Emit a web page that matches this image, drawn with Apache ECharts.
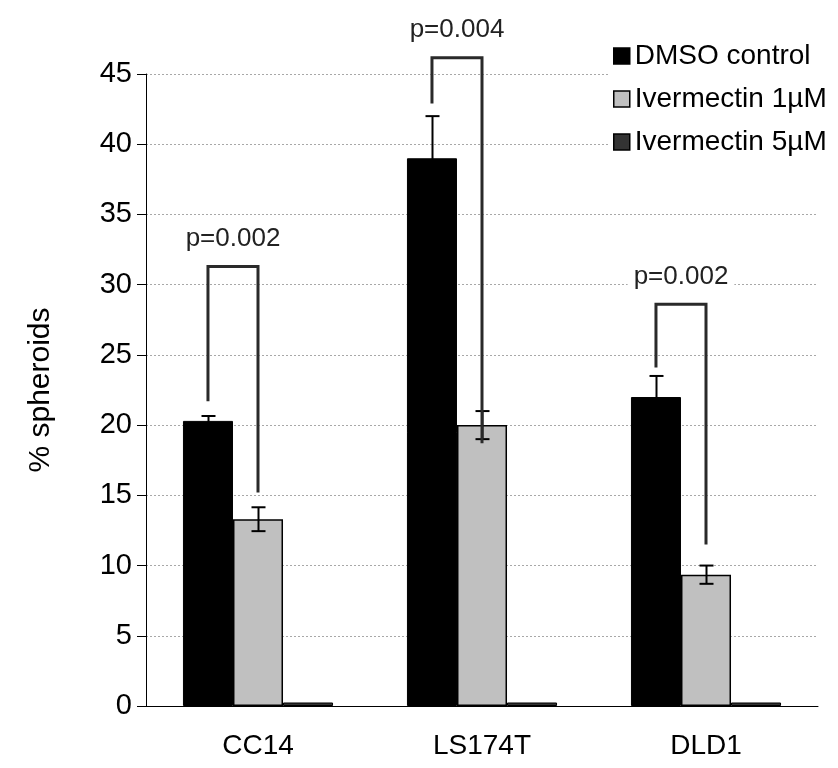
<!DOCTYPE html>
<html><head><meta charset="utf-8">
<script src="https://cdn.jsdelivr.net/npm/echarts@6/dist/echarts.min.js"></script>
<style>html,body{margin:0;padding:0;background:#fff}#c{width:838px;height:768px}</style>
</head><body><div id="c"></div>
<script>
const categories = ['CC14', 'LS174T', 'DLD1'];
const seriesNames = ['DMSO control', 'Ivermectin 1µM', 'Ivermectin 5µM'];
const dmso = [20.3, 39.0, 22.0];
const dmsoErr = [0.35, 3.0, 1.5];
const iver1 = [13.3, 20.0, 9.35];
const iver1Err = [0.85, 1.0, 0.65];
const iver5 = [0.25, 0.25, 0.25];
const iver5Err = [0, 0, 0];
const pLabels = ['p=0.002', 'p=0.004', 'p=0.002'];
const bracketTop = [31.3, 46.15, 28.6];
const bracketLeftEnd = [21.7, 42.9, 24.1];
const bracketRightEnd = [15.2, 18.7, 11.5];

const FONT = '"Liberation Sans", Arial, sans-serif';
const GAP = 0.33;

function errSeries(vals, errs, idx) {
  return {
    type: 'custom', name: seriesNames[idx] + ' err', z: 5,
    data: vals.map((v, i) => [i, v - errs[i], v + errs[i]]),
    renderItem(params, api) {
      if (api.value(2) - api.value(1) <= 0) return;
      const band = api.size([1, 0])[0];
      const bw = band * (1 - GAP) / 3;
      const off = (idx - 1) * bw;
      const lo = api.coord([api.value(0), api.value(1)]);
      const hi = api.coord([api.value(0), api.value(2)]);
      const x = Math.round(lo[0] + off) + 0.5, cap = 7;
      const st = { stroke: '#000', lineWidth: 2 };
      return { type: 'group', children: [
        { type: 'line', shape: { x1: x, y1: lo[1], x2: x, y2: hi[1] }, style: st },
        { type: 'line', shape: { x1: x - cap, y1: hi[1], x2: x + cap, y2: hi[1] }, style: st },
        { type: 'line', shape: { x1: x - cap, y1: lo[1], x2: x + cap, y2: lo[1] }, style: st }
      ] };
    }
  };
}

const bracketSeries = {
  type: 'custom', name: 'brackets', z: 6, clip: false,
  data: categories.map((c, i) => [i, bracketTop[i], bracketLeftEnd[i], bracketRightEnd[i]]),
  renderItem(params, api) {
    const i = api.value(0);
    const band = api.size([1, 0])[0];
    const bw = band * (1 - GAP) / 3;
    const c = api.coord([i, api.value(1)]);
    const xl = c[0] - bw, xr = c[0];
    const yt = c[1];
    const yl = api.coord([i, api.value(2)])[1];
    const yr = api.coord([i, api.value(3)])[1];
    return { type: 'group', children: [
      { type: 'polyline', shape: { points: [[xl, yl], [xl, yt], [xr, yt], [xr, yr]] },
        style: { stroke: '#2a2a2a', lineWidth: 3, fill: null } },
      { type: 'text', style: { text: pLabels[params.dataIndex], x: (xl + xr) / 2, y: yt - 28,
        align: 'center', verticalAlign: 'middle', fontSize: 26, fontFamily: FONT, fill: '#222',
        backgroundColor: '#fff', padding: [2, 6] } }
    ] };
  }
};

const chart = echarts.init(document.getElementById('c'), null, { renderer: 'canvas' });
chart.setOption({
  animation: false,
  backgroundColor: '#fff',
  textStyle: { fontFamily: FONT },
  grid: { left: 146, right: 20, top: 74, bottom: 62, containLabel: false },
  legend: {
    data: seriesNames, orient: 'vertical', left: 608, top: 38,
    itemWidth: 16, itemHeight: 16, itemGap: 15, icon: 'rect',
    backgroundColor: '#fff', padding: [4, 5], z: 10,
    itemStyle: { borderColor: '#000', borderWidth: 1.5 },
    textStyle: { fontSize: 28, color: '#000', fontFamily: FONT }
  },
  xAxis: {
    type: 'category', data: categories,
    axisLine: { lineStyle: { color: '#000', width: 1 } },
    axisTick: { length: 9, lineStyle: { color: '#000' } },
    axisLabel: { fontSize: 28, color: '#000', margin: 26, fontFamily: FONT }
  },
  yAxis: {
    type: 'value', min: 0, max: 45, interval: 5,
    name: '% spheroids', nameLocation: 'middle', nameGap: 90, nameRotate: 90,
    nameTextStyle: { fontSize: 30, color: '#000', fontFamily: FONT },
    axisLine: { show: true, lineStyle: { color: '#000', width: 1 } },
    axisTick: { show: true, length: 9, lineStyle: { color: '#000' } },
    axisLabel: { fontSize: 29, color: '#000', margin: 14, fontFamily: FONT },
    splitLine: { show: true, lineStyle: { color: '#a8a8a8', type: [2, 2], width: 1 } }
  },
  series: [
    { type: 'bar', name: seriesNames[0], data: dmso, barGap: '0%', barCategoryGap: (GAP * 100) + '%',
      itemStyle: { color: '#000', borderColor: '#000', borderWidth: 1 } },
    { type: 'bar', name: seriesNames[1], data: iver1, barGap: '0%', barCategoryGap: (GAP * 100) + '%',
      itemStyle: { color: '#c0c0c0', borderColor: '#000', borderWidth: 1.5 } },
    { type: 'bar', name: seriesNames[2], data: iver5, barGap: '0%', barCategoryGap: (GAP * 100) + '%',
      itemStyle: { color: '#333', borderColor: '#000', borderWidth: 1 } },
    errSeries(dmso, dmsoErr, 0),
    errSeries(iver1, iver1Err, 1),
    errSeries(iver5, iver5Err, 2),
    bracketSeries
  ]
});
</script>
</body></html>
